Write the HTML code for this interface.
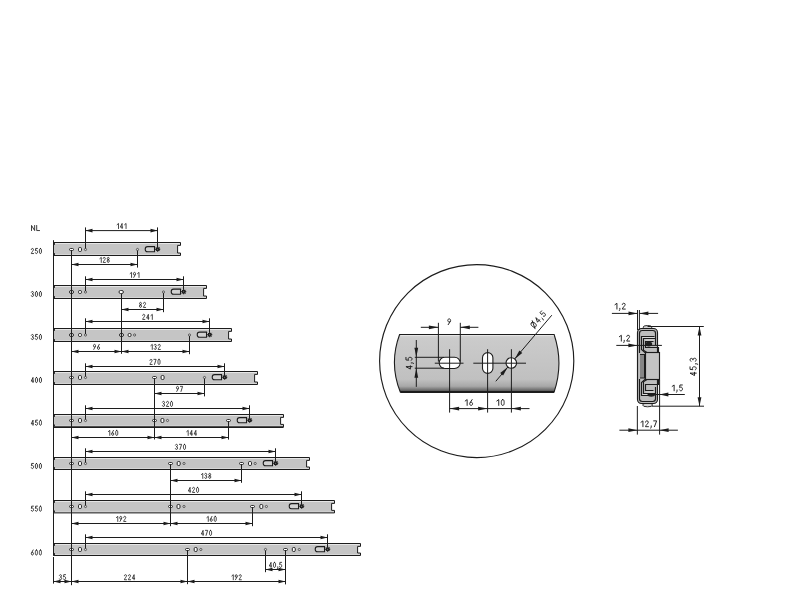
<!DOCTYPE html>
<html><head><meta charset="utf-8"><style>html,body{margin:0;padding:0;background:#fff;width:800px;height:600px;overflow:hidden}svg{will-change:transform}</style></head>
<body>
<svg width="800" height="600" viewBox="0 0 800 600" style="display:block;font-family:'Liberation Sans',sans-serif">
<rect width="800" height="600" fill="#fff"/>
<g fill="#1c1c1c">
<g transform="translate(31.03 225.00) scale(1.08 1.0)" fill="none" stroke="#1c1c1c" stroke-width="0.818" stroke-linecap="round" stroke-linejoin="round"><path transform="translate(0.00 0)" d="M0.45,5.55 V0.45 L3.35,5.55 V0.45"/><path transform="translate(4.80 0)" d="M0.45,0.45 V5.55 H3.1"/></g>
<path d="M53.5,242.5 H180.5 V245.4 H177.6 V253 H180.5 V255.5 H53.5 Z" fill="#c5c5c5"/>
<line x1="54.7" y1="243.5" x2="179.9" y2="243.5" stroke="#e6e6e6" stroke-width="1.0"/>
<line x1="54.7" y1="254.5" x2="179.9" y2="254.5" stroke="#d6d6d6" stroke-width="1.0"/>
<path d="M53.5,242.5 H180.5 V245.4 H177.6 V253 H180.5 V255.5 H53.5" fill="none" stroke="#1c1c1c" stroke-width="1.0"/>
<line x1="54.4" y1="243" x2="54.4" y2="244.9" stroke="#1c1c1c" stroke-width="1.0"/>
<line x1="54.4" y1="253.1" x2="54.4" y2="255" stroke="#1c1c1c" stroke-width="1.0"/>
<g transform="translate(30.90 248.00) scale(1.0 1.0)" fill="none" stroke="#1c1c1c" stroke-width="0.850" stroke-linecap="round" stroke-linejoin="round"><path transform="translate(0.00 0)" d="M0.45,1.55 C0.45,0.85 0.9,0.45 1.5,0.45 C2.15,0.45 2.55,0.85 2.55,1.6 C2.55,2.6 0.45,4.5 0.45,5.55 H2.65"/><path transform="translate(4.00 0)" d="M2.55,0.45 H0.75 L0.5,2.75 C0.8,2.45 1.1,2.35 1.5,2.35 C2.2,2.35 2.6,2.95 2.6,3.95 C2.6,5.0 2.1,5.55 1.5,5.55 C0.95,5.55 0.55,5.25 0.4,4.75"/><path transform="translate(8.00 0)" d="M1.5,0.45 C0.6,0.45 0.45,1.6 0.45,3 C0.45,4.4 0.6,5.55 1.5,5.55 C2.4,5.55 2.55,4.4 2.55,3 C2.55,1.6 2.4,0.45 1.5,0.45 Z"/></g>
<path d="M53.5,285.5 H206.5 V288.4 H203.6 V296 H206.5 V298.5 H53.5 Z" fill="#c5c5c5"/>
<line x1="54.7" y1="286.5" x2="205.9" y2="286.5" stroke="#e6e6e6" stroke-width="1.0"/>
<line x1="54.7" y1="297.5" x2="205.9" y2="297.5" stroke="#d6d6d6" stroke-width="1.0"/>
<path d="M53.5,285.5 H206.5 V288.4 H203.6 V296 H206.5 V298.5 H53.5" fill="none" stroke="#1c1c1c" stroke-width="1.0"/>
<line x1="54.4" y1="286" x2="54.4" y2="287.9" stroke="#1c1c1c" stroke-width="1.0"/>
<line x1="54.4" y1="296.1" x2="54.4" y2="298" stroke="#1c1c1c" stroke-width="1.0"/>
<g transform="translate(30.90 291.00) scale(1.0 1.0)" fill="none" stroke="#1c1c1c" stroke-width="0.850" stroke-linecap="round" stroke-linejoin="round"><path transform="translate(0.00 0)" d="M0.42,1.25 C0.6,0.7 1.0,0.45 1.5,0.45 C2.1,0.45 2.5,0.9 2.5,1.6 C2.5,2.35 2.05,2.8 1.25,2.8 C2.1,2.8 2.6,3.3 2.6,4.2 C2.6,5.05 2.1,5.55 1.5,5.55 C0.95,5.55 0.55,5.25 0.4,4.75"/><path transform="translate(4.00 0)" d="M1.5,0.45 C0.6,0.45 0.45,1.6 0.45,3 C0.45,4.4 0.6,5.55 1.5,5.55 C2.4,5.55 2.55,4.4 2.55,3 C2.55,1.6 2.4,0.45 1.5,0.45 Z"/><path transform="translate(8.00 0)" d="M1.5,0.45 C0.6,0.45 0.45,1.6 0.45,3 C0.45,4.4 0.6,5.55 1.5,5.55 C2.4,5.55 2.55,4.4 2.55,3 C2.55,1.6 2.4,0.45 1.5,0.45 Z"/></g>
<path d="M53.5,328.5 H231.5 V331.4 H228.6 V339 H231.5 V341.5 H53.5 Z" fill="#c5c5c5"/>
<line x1="54.7" y1="329.5" x2="230.9" y2="329.5" stroke="#e6e6e6" stroke-width="1.0"/>
<line x1="54.7" y1="340.5" x2="230.9" y2="340.5" stroke="#d6d6d6" stroke-width="1.0"/>
<path d="M53.5,328.5 H231.5 V331.4 H228.6 V339 H231.5 V341.5 H53.5" fill="none" stroke="#1c1c1c" stroke-width="1.0"/>
<line x1="54.4" y1="329" x2="54.4" y2="330.9" stroke="#1c1c1c" stroke-width="1.0"/>
<line x1="54.4" y1="339.1" x2="54.4" y2="341" stroke="#1c1c1c" stroke-width="1.0"/>
<g transform="translate(30.90 334.00) scale(1.0 1.0)" fill="none" stroke="#1c1c1c" stroke-width="0.850" stroke-linecap="round" stroke-linejoin="round"><path transform="translate(0.00 0)" d="M0.42,1.25 C0.6,0.7 1.0,0.45 1.5,0.45 C2.1,0.45 2.5,0.9 2.5,1.6 C2.5,2.35 2.05,2.8 1.25,2.8 C2.1,2.8 2.6,3.3 2.6,4.2 C2.6,5.05 2.1,5.55 1.5,5.55 C0.95,5.55 0.55,5.25 0.4,4.75"/><path transform="translate(4.00 0)" d="M2.55,0.45 H0.75 L0.5,2.75 C0.8,2.45 1.1,2.35 1.5,2.35 C2.2,2.35 2.6,2.95 2.6,3.95 C2.6,5.0 2.1,5.55 1.5,5.55 C0.95,5.55 0.55,5.25 0.4,4.75"/><path transform="translate(8.00 0)" d="M1.5,0.45 C0.6,0.45 0.45,1.6 0.45,3 C0.45,4.4 0.6,5.55 1.5,5.55 C2.4,5.55 2.55,4.4 2.55,3 C2.55,1.6 2.4,0.45 1.5,0.45 Z"/></g>
<path d="M53.5,371.5 H257.5 V374.4 H254.6 V382 H257.5 V384.5 H53.5 Z" fill="#c5c5c5"/>
<line x1="54.7" y1="372.5" x2="256.9" y2="372.5" stroke="#e6e6e6" stroke-width="1.0"/>
<line x1="54.7" y1="383.5" x2="256.9" y2="383.5" stroke="#d6d6d6" stroke-width="1.0"/>
<path d="M53.5,371.5 H257.5 V374.4 H254.6 V382 H257.5 V384.5 H53.5" fill="none" stroke="#1c1c1c" stroke-width="1.0"/>
<line x1="54.4" y1="372" x2="54.4" y2="373.9" stroke="#1c1c1c" stroke-width="1.0"/>
<line x1="54.4" y1="382.1" x2="54.4" y2="384" stroke="#1c1c1c" stroke-width="1.0"/>
<g transform="translate(30.85 377.00) scale(1.0 1.0)" fill="none" stroke="#1c1c1c" stroke-width="0.850" stroke-linecap="round" stroke-linejoin="round"><path transform="translate(0.00 0)" d="M2.15,5.55 V0.45 L0.4,4.15 H2.75"/><path transform="translate(4.10 0)" d="M1.5,0.45 C0.6,0.45 0.45,1.6 0.45,3 C0.45,4.4 0.6,5.55 1.5,5.55 C2.4,5.55 2.55,4.4 2.55,3 C2.55,1.6 2.4,0.45 1.5,0.45 Z"/><path transform="translate(8.10 0)" d="M1.5,0.45 C0.6,0.45 0.45,1.6 0.45,3 C0.45,4.4 0.6,5.55 1.5,5.55 C2.4,5.55 2.55,4.4 2.55,3 C2.55,1.6 2.4,0.45 1.5,0.45 Z"/></g>
<path d="M53.5,414.5 H283.5 V417.4 H280.6 V424.4 H283.5 V426.9 H53.5 Z" fill="#c5c5c5"/>
<line x1="54.7" y1="415.5" x2="282.9" y2="415.5" stroke="#e6e6e6" stroke-width="1.0"/>
<line x1="54.7" y1="425.9" x2="282.9" y2="425.9" stroke="#d6d6d6" stroke-width="1.0"/>
<path d="M53.5,414.5 H283.5 V417.4 H280.6 V424.4 H283.5 V426.9 H53.5" fill="none" stroke="#1c1c1c" stroke-width="1.0"/>
<line x1="54.4" y1="415" x2="54.4" y2="416.9" stroke="#1c1c1c" stroke-width="1.0"/>
<line x1="54.4" y1="424.5" x2="54.4" y2="426.4" stroke="#1c1c1c" stroke-width="1.0"/>
<g transform="translate(30.85 419.70) scale(1.0 1.0)" fill="none" stroke="#1c1c1c" stroke-width="0.850" stroke-linecap="round" stroke-linejoin="round"><path transform="translate(0.00 0)" d="M2.15,5.55 V0.45 L0.4,4.15 H2.75"/><path transform="translate(4.10 0)" d="M2.55,0.45 H0.75 L0.5,2.75 C0.8,2.45 1.1,2.35 1.5,2.35 C2.2,2.35 2.6,2.95 2.6,3.95 C2.6,5.0 2.1,5.55 1.5,5.55 C0.95,5.55 0.55,5.25 0.4,4.75"/><path transform="translate(8.10 0)" d="M1.5,0.45 C0.6,0.45 0.45,1.6 0.45,3 C0.45,4.4 0.6,5.55 1.5,5.55 C2.4,5.55 2.55,4.4 2.55,3 C2.55,1.6 2.4,0.45 1.5,0.45 Z"/></g>
<path d="M53.5,457.5 H309.5 V460.4 H306.6 V467 H309.5 V469.5 H53.5 Z" fill="#c5c5c5"/>
<line x1="54.7" y1="458.5" x2="308.9" y2="458.5" stroke="#e6e6e6" stroke-width="1.0"/>
<line x1="54.7" y1="468.5" x2="308.9" y2="468.5" stroke="#d6d6d6" stroke-width="1.0"/>
<path d="M53.5,457.5 H309.5 V460.4 H306.6 V467 H309.5 V469.5 H53.5" fill="none" stroke="#1c1c1c" stroke-width="1.0"/>
<line x1="54.4" y1="458" x2="54.4" y2="459.9" stroke="#1c1c1c" stroke-width="1.0"/>
<line x1="54.4" y1="467.1" x2="54.4" y2="469" stroke="#1c1c1c" stroke-width="1.0"/>
<g transform="translate(30.90 463.00) scale(1.0 1.0)" fill="none" stroke="#1c1c1c" stroke-width="0.850" stroke-linecap="round" stroke-linejoin="round"><path transform="translate(0.00 0)" d="M2.55,0.45 H0.75 L0.5,2.75 C0.8,2.45 1.1,2.35 1.5,2.35 C2.2,2.35 2.6,2.95 2.6,3.95 C2.6,5.0 2.1,5.55 1.5,5.55 C0.95,5.55 0.55,5.25 0.4,4.75"/><path transform="translate(4.00 0)" d="M1.5,0.45 C0.6,0.45 0.45,1.6 0.45,3 C0.45,4.4 0.6,5.55 1.5,5.55 C2.4,5.55 2.55,4.4 2.55,3 C2.55,1.6 2.4,0.45 1.5,0.45 Z"/><path transform="translate(8.00 0)" d="M1.5,0.45 C0.6,0.45 0.45,1.6 0.45,3 C0.45,4.4 0.6,5.55 1.5,5.55 C2.4,5.55 2.55,4.4 2.55,3 C2.55,1.6 2.4,0.45 1.5,0.45 Z"/></g>
<path d="M53.5,500.5 H334.5 V503.4 H331.6 V510.4 H334.5 V512.9 H53.5 Z" fill="#c5c5c5"/>
<line x1="54.7" y1="501.5" x2="333.9" y2="501.5" stroke="#e6e6e6" stroke-width="1.0"/>
<line x1="54.7" y1="511.9" x2="333.9" y2="511.9" stroke="#d6d6d6" stroke-width="1.0"/>
<path d="M53.5,500.5 H334.5 V503.4 H331.6 V510.4 H334.5 V512.9 H53.5" fill="none" stroke="#1c1c1c" stroke-width="1.0"/>
<line x1="54.4" y1="501" x2="54.4" y2="502.9" stroke="#1c1c1c" stroke-width="1.0"/>
<line x1="54.4" y1="510.5" x2="54.4" y2="512.4" stroke="#1c1c1c" stroke-width="1.0"/>
<g transform="translate(30.90 505.70) scale(1.0 1.0)" fill="none" stroke="#1c1c1c" stroke-width="0.850" stroke-linecap="round" stroke-linejoin="round"><path transform="translate(0.00 0)" d="M2.55,0.45 H0.75 L0.5,2.75 C0.8,2.45 1.1,2.35 1.5,2.35 C2.2,2.35 2.6,2.95 2.6,3.95 C2.6,5.0 2.1,5.55 1.5,5.55 C0.95,5.55 0.55,5.25 0.4,4.75"/><path transform="translate(4.00 0)" d="M2.55,0.45 H0.75 L0.5,2.75 C0.8,2.45 1.1,2.35 1.5,2.35 C2.2,2.35 2.6,2.95 2.6,3.95 C2.6,5.0 2.1,5.55 1.5,5.55 C0.95,5.55 0.55,5.25 0.4,4.75"/><path transform="translate(8.00 0)" d="M1.5,0.45 C0.6,0.45 0.45,1.6 0.45,3 C0.45,4.4 0.6,5.55 1.5,5.55 C2.4,5.55 2.55,4.4 2.55,3 C2.55,1.6 2.4,0.45 1.5,0.45 Z"/></g>
<path d="M53.5,543.5 H360.5 V546.4 H357.6 V553 H360.5 V555.5 H53.5 Z" fill="#c5c5c5"/>
<line x1="54.7" y1="544.5" x2="359.9" y2="544.5" stroke="#e6e6e6" stroke-width="1.0"/>
<line x1="54.7" y1="554.5" x2="359.9" y2="554.5" stroke="#d6d6d6" stroke-width="1.0"/>
<path d="M53.5,543.5 H360.5 V546.4 H357.6 V553 H360.5 V555.5 H53.5" fill="none" stroke="#1c1c1c" stroke-width="1.0"/>
<line x1="54.4" y1="544" x2="54.4" y2="545.9" stroke="#1c1c1c" stroke-width="1.0"/>
<line x1="54.4" y1="553.1" x2="54.4" y2="555" stroke="#1c1c1c" stroke-width="1.0"/>
<g transform="translate(30.90 549.50) scale(1.0 1.0)" fill="none" stroke="#1c1c1c" stroke-width="0.850" stroke-linecap="round" stroke-linejoin="round"><path transform="translate(0.00 0)" d="M2.25,0.45 L0.75,3.15 C0.55,3.55 0.45,3.9 0.45,4.2 C0.45,5.0 0.9,5.55 1.5,5.55 C2.1,5.55 2.55,5.0 2.55,4.15 C2.55,3.3 2.1,2.8 1.5,2.8 C1.1,2.8 0.85,2.95 0.65,3.3"/><path transform="translate(4.00 0)" d="M1.5,0.45 C0.6,0.45 0.45,1.6 0.45,3 C0.45,4.4 0.6,5.55 1.5,5.55 C2.4,5.55 2.55,4.4 2.55,3 C2.55,1.6 2.4,0.45 1.5,0.45 Z"/><path transform="translate(8.00 0)" d="M1.5,0.45 C0.6,0.45 0.45,1.6 0.45,3 C0.45,4.4 0.6,5.55 1.5,5.55 C2.4,5.55 2.55,4.4 2.55,3 C2.55,1.6 2.4,0.45 1.5,0.45 Z"/></g>
<path d="M147.6,246.6 H154.5 V251.8 H147.6 Q145.2,251.8 145.2,249.2 Q145.2,246.6 147.6,246.6 Z" fill="#d2d2d2" stroke="#1c1c1c" stroke-width="1.05"/>
<line x1="155.1" y1="249.2" x2="160.3" y2="249.2" stroke="#1c1c1c" stroke-width="0.95"/>
<line x1="155.86" y1="247.36" x2="159.54" y2="251.04" stroke="#1c1c1c" stroke-width="0.95"/>
<line x1="157.7" y1="246.6" x2="157.7" y2="251.8" stroke="#1c1c1c" stroke-width="0.95"/>
<line x1="159.54" y1="247.36" x2="155.86" y2="251.04" stroke="#1c1c1c" stroke-width="0.95"/>
<circle cx="157.7" cy="249.2" r="2.0" fill="#1c1c1c"/>
<circle cx="157.7" cy="249.2" r="0.5" fill="#999"/>
<line x1="85.5" y1="230.6" x2="157.5" y2="230.6" stroke="#1c1c1c" stroke-width="1.0"/>
<polygon points="85.5,230.6 92.5,228.75 92.5,232.45" fill="#1c1c1c"/>
<polygon points="157.5,230.6 150.5,228.75 150.5,232.45" fill="#1c1c1c"/>
<g transform="translate(116.50 223.00) scale(1.0 1.0)" fill="none" stroke="#1c1c1c" stroke-width="0.800" stroke-linecap="round" stroke-linejoin="round"><path transform="translate(0.00 0)" d="M0.55,1.7 L2.0,0.45 V5.55"/><path transform="translate(3.45 0)" d="M2.15,5.55 V0.45 L0.4,4.15 H2.75"/><path transform="translate(7.55 0)" d="M0.55,1.7 L2.0,0.45 V5.55"/></g>
<rect x="69.5" y="248.5" width="4" height="2" rx="1" fill="#fff" stroke="#1c1c1c" stroke-width="0.9"/>
<rect x="78.5" y="247.5" width="3" height="4" rx="1.2" fill="#fafafa" stroke="#1c1c1c" stroke-width="0.95"/>
<circle cx="85.5" cy="249.5" r="1.1" fill="#d8d8d8" stroke="#3a3a3a" stroke-width="0.75"/>
<path d="M173.6,289.1 H180.5 V294.3 H173.6 Q171.2,294.3 171.2,291.7 Q171.2,289.1 173.6,289.1 Z" fill="#d2d2d2" stroke="#1c1c1c" stroke-width="1.05"/>
<line x1="181.1" y1="291.7" x2="186.3" y2="291.7" stroke="#1c1c1c" stroke-width="0.95"/>
<line x1="181.86" y1="289.86" x2="185.54" y2="293.54" stroke="#1c1c1c" stroke-width="0.95"/>
<line x1="183.7" y1="289.1" x2="183.7" y2="294.3" stroke="#1c1c1c" stroke-width="0.95"/>
<line x1="185.54" y1="289.86" x2="181.86" y2="293.54" stroke="#1c1c1c" stroke-width="0.95"/>
<circle cx="183.7" cy="291.7" r="2.0" fill="#1c1c1c"/>
<circle cx="183.7" cy="291.7" r="0.5" fill="#999"/>
<line x1="85.5" y1="279.5" x2="183.5" y2="279.5" stroke="#1c1c1c" stroke-width="1.0"/>
<polygon points="85.5,279.5 92.5,277.65 92.5,281.35" fill="#1c1c1c"/>
<polygon points="183.5,279.5 176.5,277.65 176.5,281.35" fill="#1c1c1c"/>
<g transform="translate(129.55 271.90) scale(1.0 1.0)" fill="none" stroke="#1c1c1c" stroke-width="0.800" stroke-linecap="round" stroke-linejoin="round"><path transform="translate(0.00 0)" d="M0.55,1.7 L2.0,0.45 V5.55"/><path transform="translate(3.45 0)" d="M0.75,5.55 L2.25,2.85 C2.45,2.45 2.55,2.1 2.55,1.8 C2.55,1.0 2.1,0.45 1.5,0.45 C0.9,0.45 0.45,1.0 0.45,1.85 C0.45,2.7 0.9,3.2 1.5,3.2 C1.9,3.2 2.15,3.05 2.35,2.7"/><path transform="translate(7.45 0)" d="M0.55,1.7 L2.0,0.45 V5.55"/></g>
<rect x="69.5" y="290.5" width="4" height="3" rx="1.5" fill="#fff" stroke="#1c1c1c" stroke-width="0.95"/>
<rect x="78.5" y="290.5" width="3" height="3" rx="1.2" fill="#fafafa" stroke="#1c1c1c" stroke-width="0.95"/>
<circle cx="85.5" cy="292" r="1.1" fill="#d8d8d8" stroke="#3a3a3a" stroke-width="0.75"/>
<path d="M199.6,332.1 H206.5 V337.3 H199.6 Q197.2,337.3 197.2,334.7 Q197.2,332.1 199.6,332.1 Z" fill="#d2d2d2" stroke="#1c1c1c" stroke-width="1.05"/>
<line x1="207.1" y1="334.7" x2="212.3" y2="334.7" stroke="#1c1c1c" stroke-width="0.95"/>
<line x1="207.86" y1="332.86" x2="211.54" y2="336.54" stroke="#1c1c1c" stroke-width="0.95"/>
<line x1="209.7" y1="332.1" x2="209.7" y2="337.3" stroke="#1c1c1c" stroke-width="0.95"/>
<line x1="211.54" y1="332.86" x2="207.86" y2="336.54" stroke="#1c1c1c" stroke-width="0.95"/>
<circle cx="209.7" cy="334.7" r="2.0" fill="#1c1c1c"/>
<circle cx="209.7" cy="334.7" r="0.5" fill="#999"/>
<line x1="85.5" y1="321.5" x2="209.5" y2="321.5" stroke="#1c1c1c" stroke-width="1.0"/>
<polygon points="85.5,321.5 92.5,319.65 92.5,323.35" fill="#1c1c1c"/>
<polygon points="209.5,321.5 202.5,319.65 202.5,323.35" fill="#1c1c1c"/>
<g transform="translate(142.22 313.90) scale(1.0 1.0)" fill="none" stroke="#1c1c1c" stroke-width="0.800" stroke-linecap="round" stroke-linejoin="round"><path transform="translate(0.00 0)" d="M0.45,1.55 C0.45,0.85 0.9,0.45 1.5,0.45 C2.15,0.45 2.55,0.85 2.55,1.6 C2.55,2.6 0.45,4.5 0.45,5.55 H2.65"/><path transform="translate(4.00 0)" d="M2.15,5.55 V0.45 L0.4,4.15 H2.75"/><path transform="translate(8.10 0)" d="M0.55,1.7 L2.0,0.45 V5.55"/></g>
<rect x="69.5" y="333.5" width="4" height="3" rx="1.5" fill="#fff" stroke="#1c1c1c" stroke-width="0.95"/>
<rect x="78.5" y="333.5" width="3" height="3" rx="1.2" fill="#fafafa" stroke="#1c1c1c" stroke-width="0.95"/>
<circle cx="85.5" cy="335" r="1.1" fill="#d8d8d8" stroke="#3a3a3a" stroke-width="0.75"/>
<path d="M214.6,374.6 H221.5 V379.8 H214.6 Q212.2,379.8 212.2,377.2 Q212.2,374.6 214.6,374.6 Z" fill="#d2d2d2" stroke="#1c1c1c" stroke-width="1.05"/>
<line x1="222.1" y1="377.2" x2="227.3" y2="377.2" stroke="#1c1c1c" stroke-width="0.95"/>
<line x1="222.86" y1="375.36" x2="226.54" y2="379.04" stroke="#1c1c1c" stroke-width="0.95"/>
<line x1="224.7" y1="374.6" x2="224.7" y2="379.8" stroke="#1c1c1c" stroke-width="0.95"/>
<line x1="226.54" y1="375.36" x2="222.86" y2="379.04" stroke="#1c1c1c" stroke-width="0.95"/>
<circle cx="224.7" cy="377.2" r="2.0" fill="#1c1c1c"/>
<circle cx="224.7" cy="377.2" r="0.5" fill="#999"/>
<line x1="85.5" y1="366.5" x2="224.5" y2="366.5" stroke="#1c1c1c" stroke-width="1.0"/>
<polygon points="85.5,366.5 92.5,364.65 92.5,368.35" fill="#1c1c1c"/>
<polygon points="224.5,366.5 217.5,364.65 217.5,368.35" fill="#1c1c1c"/>
<g transform="translate(149.50 358.90) scale(1.0 1.0)" fill="none" stroke="#1c1c1c" stroke-width="0.800" stroke-linecap="round" stroke-linejoin="round"><path transform="translate(0.00 0)" d="M0.45,1.55 C0.45,0.85 0.9,0.45 1.5,0.45 C2.15,0.45 2.55,0.85 2.55,1.6 C2.55,2.6 0.45,4.5 0.45,5.55 H2.65"/><path transform="translate(4.00 0)" d="M0.4,0.45 H2.6 L1.0,5.55"/><path transform="translate(8.00 0)" d="M1.5,0.45 C0.6,0.45 0.45,1.6 0.45,3 C0.45,4.4 0.6,5.55 1.5,5.55 C2.4,5.55 2.55,4.4 2.55,3 C2.55,1.6 2.4,0.45 1.5,0.45 Z"/></g>
<rect x="69.5" y="376.5" width="4" height="2" rx="1" fill="#fff" stroke="#1c1c1c" stroke-width="0.9"/>
<rect x="78.5" y="375.5" width="3" height="4" rx="1.2" fill="#fafafa" stroke="#1c1c1c" stroke-width="0.95"/>
<circle cx="85.5" cy="377.5" r="1.1" fill="#d8d8d8" stroke="#3a3a3a" stroke-width="0.75"/>
<path d="M239.6,417.6 H246.5 V422.8 H239.6 Q237.2,422.8 237.2,420.2 Q237.2,417.6 239.6,417.6 Z" fill="#d2d2d2" stroke="#1c1c1c" stroke-width="1.05"/>
<line x1="247.1" y1="420.2" x2="252.3" y2="420.2" stroke="#1c1c1c" stroke-width="0.95"/>
<line x1="247.86" y1="418.36" x2="251.54" y2="422.04" stroke="#1c1c1c" stroke-width="0.95"/>
<line x1="249.7" y1="417.6" x2="249.7" y2="422.8" stroke="#1c1c1c" stroke-width="0.95"/>
<line x1="251.54" y1="418.36" x2="247.86" y2="422.04" stroke="#1c1c1c" stroke-width="0.95"/>
<circle cx="249.7" cy="420.2" r="2.0" fill="#1c1c1c"/>
<circle cx="249.7" cy="420.2" r="0.5" fill="#999"/>
<line x1="85.5" y1="408.5" x2="249.5" y2="408.5" stroke="#1c1c1c" stroke-width="1.0"/>
<polygon points="85.5,408.5 92.5,406.65 92.5,410.35" fill="#1c1c1c"/>
<polygon points="249.5,408.5 242.5,406.65 242.5,410.35" fill="#1c1c1c"/>
<g transform="translate(162.00 400.90) scale(1.0 1.0)" fill="none" stroke="#1c1c1c" stroke-width="0.800" stroke-linecap="round" stroke-linejoin="round"><path transform="translate(0.00 0)" d="M0.42,1.25 C0.6,0.7 1.0,0.45 1.5,0.45 C2.1,0.45 2.5,0.9 2.5,1.6 C2.5,2.35 2.05,2.8 1.25,2.8 C2.1,2.8 2.6,3.3 2.6,4.2 C2.6,5.05 2.1,5.55 1.5,5.55 C0.95,5.55 0.55,5.25 0.4,4.75"/><path transform="translate(4.00 0)" d="M0.45,1.55 C0.45,0.85 0.9,0.45 1.5,0.45 C2.15,0.45 2.55,0.85 2.55,1.6 C2.55,2.6 0.45,4.5 0.45,5.55 H2.65"/><path transform="translate(8.00 0)" d="M1.5,0.45 C0.6,0.45 0.45,1.6 0.45,3 C0.45,4.4 0.6,5.55 1.5,5.55 C2.4,5.55 2.55,4.4 2.55,3 C2.55,1.6 2.4,0.45 1.5,0.45 Z"/></g>
<rect x="69.5" y="419.5" width="4" height="2" rx="1" fill="#fff" stroke="#1c1c1c" stroke-width="0.9"/>
<rect x="78.5" y="418.5" width="3" height="4" rx="1.2" fill="#fafafa" stroke="#1c1c1c" stroke-width="0.95"/>
<circle cx="85.5" cy="420.5" r="1.1" fill="#d8d8d8" stroke="#3a3a3a" stroke-width="0.75"/>
<path d="M265.6,460.6 H272.5 V465.8 H265.6 Q263.2,465.8 263.2,463.2 Q263.2,460.6 265.6,460.6 Z" fill="#d2d2d2" stroke="#1c1c1c" stroke-width="1.05"/>
<line x1="273.1" y1="463.2" x2="278.3" y2="463.2" stroke="#1c1c1c" stroke-width="0.95"/>
<line x1="273.86" y1="461.36" x2="277.54" y2="465.04" stroke="#1c1c1c" stroke-width="0.95"/>
<line x1="275.7" y1="460.6" x2="275.7" y2="465.8" stroke="#1c1c1c" stroke-width="0.95"/>
<line x1="277.54" y1="461.36" x2="273.86" y2="465.04" stroke="#1c1c1c" stroke-width="0.95"/>
<circle cx="275.7" cy="463.2" r="2.0" fill="#1c1c1c"/>
<circle cx="275.7" cy="463.2" r="0.5" fill="#999"/>
<line x1="85.5" y1="451.5" x2="275.5" y2="451.5" stroke="#1c1c1c" stroke-width="1.0"/>
<polygon points="85.5,451.5 92.5,449.65 92.5,453.35" fill="#1c1c1c"/>
<polygon points="275.5,451.5 268.5,449.65 268.5,453.35" fill="#1c1c1c"/>
<g transform="translate(175.00 443.90) scale(1.0 1.0)" fill="none" stroke="#1c1c1c" stroke-width="0.800" stroke-linecap="round" stroke-linejoin="round"><path transform="translate(0.00 0)" d="M0.42,1.25 C0.6,0.7 1.0,0.45 1.5,0.45 C2.1,0.45 2.5,0.9 2.5,1.6 C2.5,2.35 2.05,2.8 1.25,2.8 C2.1,2.8 2.6,3.3 2.6,4.2 C2.6,5.05 2.1,5.55 1.5,5.55 C0.95,5.55 0.55,5.25 0.4,4.75"/><path transform="translate(4.00 0)" d="M0.4,0.45 H2.6 L1.0,5.55"/><path transform="translate(8.00 0)" d="M1.5,0.45 C0.6,0.45 0.45,1.6 0.45,3 C0.45,4.4 0.6,5.55 1.5,5.55 C2.4,5.55 2.55,4.4 2.55,3 C2.55,1.6 2.4,0.45 1.5,0.45 Z"/></g>
<rect x="69.5" y="462.5" width="4" height="2" rx="1" fill="#fff" stroke="#1c1c1c" stroke-width="0.9"/>
<rect x="78.5" y="461.5" width="3" height="4" rx="1.2" fill="#fafafa" stroke="#1c1c1c" stroke-width="0.95"/>
<circle cx="85.5" cy="463.5" r="1.1" fill="#d8d8d8" stroke="#3a3a3a" stroke-width="0.75"/>
<path d="M291.6,503.6 H298.5 V508.8 H291.6 Q289.2,508.8 289.2,506.2 Q289.2,503.6 291.6,503.6 Z" fill="#d2d2d2" stroke="#1c1c1c" stroke-width="1.05"/>
<line x1="299.1" y1="506.2" x2="304.3" y2="506.2" stroke="#1c1c1c" stroke-width="0.95"/>
<line x1="299.86" y1="504.36" x2="303.54" y2="508.04" stroke="#1c1c1c" stroke-width="0.95"/>
<line x1="301.7" y1="503.6" x2="301.7" y2="508.8" stroke="#1c1c1c" stroke-width="0.95"/>
<line x1="303.54" y1="504.36" x2="299.86" y2="508.04" stroke="#1c1c1c" stroke-width="0.95"/>
<circle cx="301.7" cy="506.2" r="2.0" fill="#1c1c1c"/>
<circle cx="301.7" cy="506.2" r="0.5" fill="#999"/>
<line x1="85.5" y1="494.5" x2="301.5" y2="494.5" stroke="#1c1c1c" stroke-width="1.0"/>
<polygon points="85.5,494.5 92.5,492.65 92.5,496.35" fill="#1c1c1c"/>
<polygon points="301.5,494.5 294.5,492.65 294.5,496.35" fill="#1c1c1c"/>
<g transform="translate(187.95 486.90) scale(1.0 1.0)" fill="none" stroke="#1c1c1c" stroke-width="0.800" stroke-linecap="round" stroke-linejoin="round"><path transform="translate(0.00 0)" d="M2.15,5.55 V0.45 L0.4,4.15 H2.75"/><path transform="translate(4.10 0)" d="M0.45,1.55 C0.45,0.85 0.9,0.45 1.5,0.45 C2.15,0.45 2.55,0.85 2.55,1.6 C2.55,2.6 0.45,4.5 0.45,5.55 H2.65"/><path transform="translate(8.10 0)" d="M1.5,0.45 C0.6,0.45 0.45,1.6 0.45,3 C0.45,4.4 0.6,5.55 1.5,5.55 C2.4,5.55 2.55,4.4 2.55,3 C2.55,1.6 2.4,0.45 1.5,0.45 Z"/></g>
<rect x="69.5" y="505.5" width="4" height="2" rx="1" fill="#fff" stroke="#1c1c1c" stroke-width="0.9"/>
<rect x="78.5" y="504.5" width="3" height="4" rx="1.2" fill="#fafafa" stroke="#1c1c1c" stroke-width="0.95"/>
<circle cx="85.5" cy="506.5" r="1.1" fill="#d8d8d8" stroke="#3a3a3a" stroke-width="0.75"/>
<path d="M317.6,546.6 H324.5 V551.8 H317.6 Q315.2,551.8 315.2,549.2 Q315.2,546.6 317.6,546.6 Z" fill="#d2d2d2" stroke="#1c1c1c" stroke-width="1.05"/>
<line x1="325.1" y1="549.2" x2="330.3" y2="549.2" stroke="#1c1c1c" stroke-width="0.95"/>
<line x1="325.86" y1="547.36" x2="329.54" y2="551.04" stroke="#1c1c1c" stroke-width="0.95"/>
<line x1="327.7" y1="546.6" x2="327.7" y2="551.8" stroke="#1c1c1c" stroke-width="0.95"/>
<line x1="329.54" y1="547.36" x2="325.86" y2="551.04" stroke="#1c1c1c" stroke-width="0.95"/>
<circle cx="327.7" cy="549.2" r="2.0" fill="#1c1c1c"/>
<circle cx="327.7" cy="549.2" r="0.5" fill="#999"/>
<line x1="85.5" y1="537.5" x2="327.5" y2="537.5" stroke="#1c1c1c" stroke-width="1.0"/>
<polygon points="85.5,537.5 92.5,535.65 92.5,539.35" fill="#1c1c1c"/>
<polygon points="327.5,537.5 320.5,535.65 320.5,539.35" fill="#1c1c1c"/>
<g transform="translate(200.95 529.90) scale(1.0 1.0)" fill="none" stroke="#1c1c1c" stroke-width="0.800" stroke-linecap="round" stroke-linejoin="round"><path transform="translate(0.00 0)" d="M2.15,5.55 V0.45 L0.4,4.15 H2.75"/><path transform="translate(4.10 0)" d="M0.4,0.45 H2.6 L1.0,5.55"/><path transform="translate(8.10 0)" d="M1.5,0.45 C0.6,0.45 0.45,1.6 0.45,3 C0.45,4.4 0.6,5.55 1.5,5.55 C2.4,5.55 2.55,4.4 2.55,3 C2.55,1.6 2.4,0.45 1.5,0.45 Z"/></g>
<rect x="69.5" y="548.5" width="4" height="2" rx="1" fill="#fff" stroke="#1c1c1c" stroke-width="0.9"/>
<rect x="78.5" y="547.5" width="3" height="4" rx="1.2" fill="#fafafa" stroke="#1c1c1c" stroke-width="0.95"/>
<circle cx="85.5" cy="549.5" r="1.1" fill="#d8d8d8" stroke="#3a3a3a" stroke-width="0.75"/>
<circle cx="137.5" cy="249.5" r="1.1" fill="#d8d8d8" stroke="#3a3a3a" stroke-width="0.75"/>
<line x1="71.5" y1="264.5" x2="137.5" y2="264.5" stroke="#1c1c1c" stroke-width="1.0"/>
<polygon points="71.5,264.5 78.5,262.65 78.5,266.35" fill="#1c1c1c"/>
<polygon points="137.5,264.5 130.5,262.65 130.5,266.35" fill="#1c1c1c"/>
<g transform="translate(99.28 256.90) scale(1.0 1.0)" fill="none" stroke="#1c1c1c" stroke-width="0.800" stroke-linecap="round" stroke-linejoin="round"><path transform="translate(0.00 0)" d="M0.55,1.7 L2.0,0.45 V5.55"/><path transform="translate(3.45 0)" d="M0.45,1.55 C0.45,0.85 0.9,0.45 1.5,0.45 C2.15,0.45 2.55,0.85 2.55,1.6 C2.55,2.6 0.45,4.5 0.45,5.55 H2.65"/><path transform="translate(7.45 0)" d="M1.5,2.8 C0.9,2.8 0.55,2.3 0.55,1.6 C0.55,0.9 0.95,0.45 1.5,0.45 C2.05,0.45 2.45,0.9 2.45,1.6 C2.45,2.3 2.1,2.8 1.5,2.8 C0.85,2.8 0.45,3.35 0.45,4.2 C0.45,5.0 0.9,5.55 1.5,5.55 C2.1,5.55 2.55,5.0 2.55,4.2 C2.55,3.35 2.15,2.8 1.5,2.8 Z"/></g>
<rect x="119" y="290.5" width="4.4" height="3" rx="1.5" fill="#fff" stroke="#1c1c1c" stroke-width="0.9"/>
<circle cx="163.5" cy="292" r="1.1" fill="#d8d8d8" stroke="#3a3a3a" stroke-width="0.75"/>
<line x1="121.5" y1="309.5" x2="163.5" y2="309.5" stroke="#1c1c1c" stroke-width="1.0"/>
<polygon points="121.5,309.5 128.5,307.65 128.5,311.35" fill="#1c1c1c"/>
<polygon points="163.5,309.5 156.5,307.65 156.5,311.35" fill="#1c1c1c"/>
<g transform="translate(139.00 301.90) scale(1.0 1.0)" fill="none" stroke="#1c1c1c" stroke-width="0.800" stroke-linecap="round" stroke-linejoin="round"><path transform="translate(0.00 0)" d="M1.5,2.8 C0.9,2.8 0.55,2.3 0.55,1.6 C0.55,0.9 0.95,0.45 1.5,0.45 C2.05,0.45 2.45,0.9 2.45,1.6 C2.45,2.3 2.1,2.8 1.5,2.8 C0.85,2.8 0.45,3.35 0.45,4.2 C0.45,5.0 0.9,5.55 1.5,5.55 C2.1,5.55 2.55,5.0 2.55,4.2 C2.55,3.35 2.15,2.8 1.5,2.8 Z"/><path transform="translate(4.00 0)" d="M0.45,1.55 C0.45,0.85 0.9,0.45 1.5,0.45 C2.15,0.45 2.55,0.85 2.55,1.6 C2.55,2.6 0.45,4.5 0.45,5.55 H2.65"/></g>
<rect x="119.5" y="333.5" width="4" height="3" rx="1.5" fill="#fff" stroke="#1c1c1c" stroke-width="0.95"/>
<rect x="128.1" y="333.5" width="3" height="3" rx="1.2" fill="#fafafa" stroke="#1c1c1c" stroke-width="0.95"/>
<circle cx="134.6" cy="335" r="1.1" fill="#d8d8d8" stroke="#3a3a3a" stroke-width="0.75"/>
<circle cx="189.5" cy="335" r="1.1" fill="#d8d8d8" stroke="#3a3a3a" stroke-width="0.75"/>
<line x1="71.5" y1="351.5" x2="121.5" y2="351.5" stroke="#1c1c1c" stroke-width="1.0"/>
<polygon points="71.5,351.5 78.5,349.65 78.5,353.35" fill="#1c1c1c"/>
<polygon points="121.5,351.5 114.5,349.65 114.5,353.35" fill="#1c1c1c"/>
<g transform="translate(93.00 343.90) scale(1.0 1.0)" fill="none" stroke="#1c1c1c" stroke-width="0.800" stroke-linecap="round" stroke-linejoin="round"><path transform="translate(0.00 0)" d="M0.75,5.55 L2.25,2.85 C2.45,2.45 2.55,2.1 2.55,1.8 C2.55,1.0 2.1,0.45 1.5,0.45 C0.9,0.45 0.45,1.0 0.45,1.85 C0.45,2.7 0.9,3.2 1.5,3.2 C1.9,3.2 2.15,3.05 2.35,2.7"/><path transform="translate(4.00 0)" d="M2.25,0.45 L0.75,3.15 C0.55,3.55 0.45,3.9 0.45,4.2 C0.45,5.0 0.9,5.55 1.5,5.55 C2.1,5.55 2.55,5.0 2.55,4.15 C2.55,3.3 2.1,2.8 1.5,2.8 C1.1,2.8 0.85,2.95 0.65,3.3"/></g>
<line x1="121.5" y1="351.5" x2="189.5" y2="351.5" stroke="#1c1c1c" stroke-width="1.0"/>
<polygon points="121.5,351.5 128.5,349.65 128.5,353.35" fill="#1c1c1c"/>
<polygon points="189.5,351.5 182.5,349.65 182.5,353.35" fill="#1c1c1c"/>
<g transform="translate(150.28 343.90) scale(1.0 1.0)" fill="none" stroke="#1c1c1c" stroke-width="0.800" stroke-linecap="round" stroke-linejoin="round"><path transform="translate(0.00 0)" d="M0.55,1.7 L2.0,0.45 V5.55"/><path transform="translate(3.45 0)" d="M0.42,1.25 C0.6,0.7 1.0,0.45 1.5,0.45 C2.1,0.45 2.5,0.9 2.5,1.6 C2.5,2.35 2.05,2.8 1.25,2.8 C2.1,2.8 2.6,3.3 2.6,4.2 C2.6,5.05 2.1,5.55 1.5,5.55 C0.95,5.55 0.55,5.25 0.4,4.75"/><path transform="translate(7.45 0)" d="M0.45,1.55 C0.45,0.85 0.9,0.45 1.5,0.45 C2.15,0.45 2.55,0.85 2.55,1.6 C2.55,2.6 0.45,4.5 0.45,5.55 H2.65"/></g>
<rect x="152.5" y="376.5" width="4" height="2" rx="1" fill="#fff" stroke="#1c1c1c" stroke-width="0.9"/>
<rect x="161.1" y="375.5" width="3" height="4" rx="1.2" fill="#fafafa" stroke="#1c1c1c" stroke-width="0.95"/>
<circle cx="204.5" cy="377.5" r="1.1" fill="#d8d8d8" stroke="#3a3a3a" stroke-width="0.75"/>
<line x1="154.5" y1="393.5" x2="204.5" y2="393.5" stroke="#1c1c1c" stroke-width="1.0"/>
<polygon points="154.5,393.5 161.5,391.65 161.5,395.35" fill="#1c1c1c"/>
<polygon points="204.5,393.5 197.5,391.65 197.5,395.35" fill="#1c1c1c"/>
<g transform="translate(176.00 385.90) scale(1.0 1.0)" fill="none" stroke="#1c1c1c" stroke-width="0.800" stroke-linecap="round" stroke-linejoin="round"><path transform="translate(0.00 0)" d="M0.75,5.55 L2.25,2.85 C2.45,2.45 2.55,2.1 2.55,1.8 C2.55,1.0 2.1,0.45 1.5,0.45 C0.9,0.45 0.45,1.0 0.45,1.85 C0.45,2.7 0.9,3.2 1.5,3.2 C1.9,3.2 2.15,3.05 2.35,2.7"/><path transform="translate(4.00 0)" d="M0.4,0.45 H2.6 L1.0,5.55"/></g>
<rect x="152.5" y="419.5" width="4" height="2" rx="1" fill="#fff" stroke="#1c1c1c" stroke-width="0.9"/>
<rect x="160.9" y="418.5" width="3" height="4" rx="1.2" fill="#fafafa" stroke="#1c1c1c" stroke-width="0.95"/>
<circle cx="167.5" cy="420.5" r="1.1" fill="#d8d8d8" stroke="#3a3a3a" stroke-width="0.75"/>
<rect x="226.5" y="419.5" width="4" height="2" rx="1" fill="#fff" stroke="#1c1c1c" stroke-width="0.9"/>
<line x1="53.5" y1="427.4" x2="283.5" y2="427.4" stroke="#1c1c1c" stroke-width="1.2"/>
<line x1="71.5" y1="437.5" x2="154.5" y2="437.5" stroke="#1c1c1c" stroke-width="1.0"/>
<polygon points="71.5,437.5 78.5,435.65 78.5,439.35" fill="#1c1c1c"/>
<polygon points="154.5,437.5 147.5,435.65 147.5,439.35" fill="#1c1c1c"/>
<g transform="translate(107.78 429.90) scale(1.0 1.0)" fill="none" stroke="#1c1c1c" stroke-width="0.800" stroke-linecap="round" stroke-linejoin="round"><path transform="translate(0.00 0)" d="M0.55,1.7 L2.0,0.45 V5.55"/><path transform="translate(3.45 0)" d="M2.25,0.45 L0.75,3.15 C0.55,3.55 0.45,3.9 0.45,4.2 C0.45,5.0 0.9,5.55 1.5,5.55 C2.1,5.55 2.55,5.0 2.55,4.15 C2.55,3.3 2.1,2.8 1.5,2.8 C1.1,2.8 0.85,2.95 0.65,3.3"/><path transform="translate(7.45 0)" d="M1.5,0.45 C0.6,0.45 0.45,1.6 0.45,3 C0.45,4.4 0.6,5.55 1.5,5.55 C2.4,5.55 2.55,4.4 2.55,3 C2.55,1.6 2.4,0.45 1.5,0.45 Z"/></g>
<line x1="154.5" y1="437.5" x2="228.5" y2="437.5" stroke="#1c1c1c" stroke-width="1.0"/>
<polygon points="154.5,437.5 161.5,435.65 161.5,439.35" fill="#1c1c1c"/>
<polygon points="228.5,437.5 221.5,435.65 221.5,439.35" fill="#1c1c1c"/>
<g transform="translate(186.18 429.90) scale(1.0 1.0)" fill="none" stroke="#1c1c1c" stroke-width="0.800" stroke-linecap="round" stroke-linejoin="round"><path transform="translate(0.00 0)" d="M0.55,1.7 L2.0,0.45 V5.55"/><path transform="translate(3.45 0)" d="M2.15,5.55 V0.45 L0.4,4.15 H2.75"/><path transform="translate(7.55 0)" d="M2.15,5.55 V0.45 L0.4,4.15 H2.75"/></g>
<rect x="168.5" y="462.5" width="4" height="2" rx="1" fill="#fff" stroke="#1c1c1c" stroke-width="0.9"/>
<rect x="177.2" y="461.5" width="3" height="4" rx="1.2" fill="#fafafa" stroke="#1c1c1c" stroke-width="0.95"/>
<circle cx="184" cy="463.5" r="1.1" fill="#d8d8d8" stroke="#3a3a3a" stroke-width="0.75"/>
<rect x="239.5" y="462.5" width="4" height="2" rx="1" fill="#fff" stroke="#1c1c1c" stroke-width="0.9"/>
<rect x="248.5" y="461.5" width="3" height="4" rx="1.2" fill="#fafafa" stroke="#1c1c1c" stroke-width="0.95"/>
<circle cx="255.2" cy="463.5" r="1.1" fill="#d8d8d8" stroke="#3a3a3a" stroke-width="0.75"/>
<line x1="170.5" y1="480.5" x2="241.5" y2="480.5" stroke="#1c1c1c" stroke-width="1.0"/>
<polygon points="170.5,480.5 177.5,478.65 177.5,482.35" fill="#1c1c1c"/>
<polygon points="241.5,480.5 234.5,478.65 234.5,482.35" fill="#1c1c1c"/>
<g transform="translate(200.78 472.90) scale(1.0 1.0)" fill="none" stroke="#1c1c1c" stroke-width="0.800" stroke-linecap="round" stroke-linejoin="round"><path transform="translate(0.00 0)" d="M0.55,1.7 L2.0,0.45 V5.55"/><path transform="translate(3.45 0)" d="M0.42,1.25 C0.6,0.7 1.0,0.45 1.5,0.45 C2.1,0.45 2.5,0.9 2.5,1.6 C2.5,2.35 2.05,2.8 1.25,2.8 C2.1,2.8 2.6,3.3 2.6,4.2 C2.6,5.05 2.1,5.55 1.5,5.55 C0.95,5.55 0.55,5.25 0.4,4.75"/><path transform="translate(7.45 0)" d="M1.5,2.8 C0.9,2.8 0.55,2.3 0.55,1.6 C0.55,0.9 0.95,0.45 1.5,0.45 C2.05,0.45 2.45,0.9 2.45,1.6 C2.45,2.3 2.1,2.8 1.5,2.8 C0.85,2.8 0.45,3.35 0.45,4.2 C0.45,5.0 0.9,5.55 1.5,5.55 C2.1,5.55 2.55,5.0 2.55,4.2 C2.55,3.35 2.15,2.8 1.5,2.8 Z"/></g>
<rect x="168.5" y="505.5" width="4" height="2" rx="1" fill="#fff" stroke="#1c1c1c" stroke-width="0.9"/>
<rect x="177" y="504.5" width="3" height="4" rx="1.2" fill="#fafafa" stroke="#1c1c1c" stroke-width="0.95"/>
<circle cx="184" cy="506.5" r="1.1" fill="#d8d8d8" stroke="#3a3a3a" stroke-width="0.75"/>
<rect x="250.5" y="505.5" width="4" height="2" rx="1" fill="#fff" stroke="#1c1c1c" stroke-width="0.9"/>
<rect x="259.8" y="504.5" width="3" height="4" rx="1.2" fill="#fafafa" stroke="#1c1c1c" stroke-width="0.95"/>
<circle cx="266.4" cy="506.5" r="1.1" fill="#d8d8d8" stroke="#3a3a3a" stroke-width="0.75"/>
<line x1="71.5" y1="523.5" x2="170.5" y2="523.5" stroke="#1c1c1c" stroke-width="1.0"/>
<polygon points="71.5,523.5 78.5,521.65 78.5,525.35" fill="#1c1c1c"/>
<polygon points="170.5,523.5 163.5,521.65 163.5,525.35" fill="#1c1c1c"/>
<g transform="translate(115.78 515.90) scale(1.0 1.0)" fill="none" stroke="#1c1c1c" stroke-width="0.800" stroke-linecap="round" stroke-linejoin="round"><path transform="translate(0.00 0)" d="M0.55,1.7 L2.0,0.45 V5.55"/><path transform="translate(3.45 0)" d="M0.75,5.55 L2.25,2.85 C2.45,2.45 2.55,2.1 2.55,1.8 C2.55,1.0 2.1,0.45 1.5,0.45 C0.9,0.45 0.45,1.0 0.45,1.85 C0.45,2.7 0.9,3.2 1.5,3.2 C1.9,3.2 2.15,3.05 2.35,2.7"/><path transform="translate(7.45 0)" d="M0.45,1.55 C0.45,0.85 0.9,0.45 1.5,0.45 C2.15,0.45 2.55,0.85 2.55,1.6 C2.55,2.6 0.45,4.5 0.45,5.55 H2.65"/></g>
<line x1="170.5" y1="523.5" x2="252.5" y2="523.5" stroke="#1c1c1c" stroke-width="1.0"/>
<polygon points="170.5,523.5 177.5,521.65 177.5,525.35" fill="#1c1c1c"/>
<polygon points="252.5,523.5 245.5,521.65 245.5,525.35" fill="#1c1c1c"/>
<g transform="translate(206.28 515.90) scale(1.0 1.0)" fill="none" stroke="#1c1c1c" stroke-width="0.800" stroke-linecap="round" stroke-linejoin="round"><path transform="translate(0.00 0)" d="M0.55,1.7 L2.0,0.45 V5.55"/><path transform="translate(3.45 0)" d="M2.25,0.45 L0.75,3.15 C0.55,3.55 0.45,3.9 0.45,4.2 C0.45,5.0 0.9,5.55 1.5,5.55 C2.1,5.55 2.55,5.0 2.55,4.15 C2.55,3.3 2.1,2.8 1.5,2.8 C1.1,2.8 0.85,2.95 0.65,3.3"/><path transform="translate(7.45 0)" d="M1.5,0.45 C0.6,0.45 0.45,1.6 0.45,3 C0.45,4.4 0.6,5.55 1.5,5.55 C2.4,5.55 2.55,4.4 2.55,3 C2.55,1.6 2.4,0.45 1.5,0.45 Z"/></g>
<rect x="185.5" y="548.5" width="4" height="2" rx="1" fill="#fff" stroke="#1c1c1c" stroke-width="0.9"/>
<rect x="194.2" y="547.5" width="3" height="4" rx="1.2" fill="#fafafa" stroke="#1c1c1c" stroke-width="0.95"/>
<circle cx="200.8" cy="549.5" r="1.1" fill="#d8d8d8" stroke="#3a3a3a" stroke-width="0.75"/>
<circle cx="265.5" cy="549.5" r="1.1" fill="#d8d8d8" stroke="#3a3a3a" stroke-width="0.75"/>
<rect x="283.5" y="548.5" width="4" height="2" rx="1" fill="#fff" stroke="#1c1c1c" stroke-width="0.9"/>
<rect x="292.3" y="547.5" width="3" height="4" rx="1.2" fill="#fafafa" stroke="#1c1c1c" stroke-width="0.95"/>
<circle cx="299.3" cy="549.5" r="1.1" fill="#d8d8d8" stroke="#3a3a3a" stroke-width="0.75"/>
<line x1="265.5" y1="569.5" x2="285.5" y2="569.5" stroke="#1c1c1c" stroke-width="1.0"/>
<polygon points="265.5,569.5 272.5,567.65 272.5,571.35" fill="#1c1c1c"/>
<polygon points="285.5,569.5 278.5,567.65 278.5,571.35" fill="#1c1c1c"/>
<g transform="translate(268.90 561.90) scale(1.0 1.0)" fill="none" stroke="#1c1c1c" stroke-width="0.800" stroke-linecap="round" stroke-linejoin="round"><path transform="translate(0.00 0)" d="M2.15,5.55 V0.45 L0.4,4.15 H2.75"/><path transform="translate(4.10 0)" d="M1.5,0.45 C0.6,0.45 0.45,1.6 0.45,3 C0.45,4.4 0.6,5.55 1.5,5.55 C2.4,5.55 2.55,4.4 2.55,3 C2.55,1.6 2.4,0.45 1.5,0.45 Z"/><path transform="translate(8.10 0)" d="M0.7,4.85 V5.9 L0.35,6.8"/><path transform="translate(10.20 0)" d="M2.55,0.45 H0.75 L0.5,2.75 C0.8,2.45 1.1,2.35 1.5,2.35 C2.2,2.35 2.6,2.95 2.6,3.95 C2.6,5.0 2.1,5.55 1.5,5.55 C0.95,5.55 0.55,5.25 0.4,4.75"/></g>
<line x1="53.5" y1="581.5" x2="71.5" y2="581.5" stroke="#1c1c1c" stroke-width="1.0"/>
<polygon points="53.5,581.5 60.5,579.65 60.5,583.35" fill="#1c1c1c"/>
<polygon points="71.5,581.5 64.5,579.65 64.5,583.35" fill="#1c1c1c"/>
<g transform="translate(59.00 574.20) scale(1.0 1.0)" fill="none" stroke="#1c1c1c" stroke-width="0.800" stroke-linecap="round" stroke-linejoin="round"><path transform="translate(0.00 0)" d="M0.42,1.25 C0.6,0.7 1.0,0.45 1.5,0.45 C2.1,0.45 2.5,0.9 2.5,1.6 C2.5,2.35 2.05,2.8 1.25,2.8 C2.1,2.8 2.6,3.3 2.6,4.2 C2.6,5.05 2.1,5.55 1.5,5.55 C0.95,5.55 0.55,5.25 0.4,4.75"/><path transform="translate(4.00 0)" d="M2.55,0.45 H0.75 L0.5,2.75 C0.8,2.45 1.1,2.35 1.5,2.35 C2.2,2.35 2.6,2.95 2.6,3.95 C2.6,5.0 2.1,5.55 1.5,5.55 C0.95,5.55 0.55,5.25 0.4,4.75"/></g>
<line x1="71.5" y1="581.5" x2="187.5" y2="581.5" stroke="#1c1c1c" stroke-width="1.0"/>
<polygon points="71.5,581.5 78.5,579.65 78.5,583.35" fill="#1c1c1c"/>
<polygon points="187.5,581.5 180.5,579.65 180.5,583.35" fill="#1c1c1c"/>
<g transform="translate(123.95 574.20) scale(1.0 1.0)" fill="none" stroke="#1c1c1c" stroke-width="0.800" stroke-linecap="round" stroke-linejoin="round"><path transform="translate(0.00 0)" d="M0.45,1.55 C0.45,0.85 0.9,0.45 1.5,0.45 C2.15,0.45 2.55,0.85 2.55,1.6 C2.55,2.6 0.45,4.5 0.45,5.55 H2.65"/><path transform="translate(4.00 0)" d="M0.45,1.55 C0.45,0.85 0.9,0.45 1.5,0.45 C2.15,0.45 2.55,0.85 2.55,1.6 C2.55,2.6 0.45,4.5 0.45,5.55 H2.65"/><path transform="translate(8.00 0)" d="M2.15,5.55 V0.45 L0.4,4.15 H2.75"/></g>
<line x1="187.5" y1="581.5" x2="285.5" y2="581.5" stroke="#1c1c1c" stroke-width="1.0"/>
<polygon points="187.5,581.5 194.5,579.65 194.5,583.35" fill="#1c1c1c"/>
<polygon points="285.5,581.5 278.5,579.65 278.5,583.35" fill="#1c1c1c"/>
<g transform="translate(231.28 574.20) scale(1.0 1.0)" fill="none" stroke="#1c1c1c" stroke-width="0.800" stroke-linecap="round" stroke-linejoin="round"><path transform="translate(0.00 0)" d="M0.55,1.7 L2.0,0.45 V5.55"/><path transform="translate(3.45 0)" d="M0.75,5.55 L2.25,2.85 C2.45,2.45 2.55,2.1 2.55,1.8 C2.55,1.0 2.1,0.45 1.5,0.45 C0.9,0.45 0.45,1.0 0.45,1.85 C0.45,2.7 0.9,3.2 1.5,3.2 C1.9,3.2 2.15,3.05 2.35,2.7"/><path transform="translate(7.45 0)" d="M0.45,1.55 C0.45,0.85 0.9,0.45 1.5,0.45 C2.15,0.45 2.55,0.85 2.55,1.6 C2.55,2.6 0.45,4.5 0.45,5.55 H2.65"/></g>
<line x1="53.5" y1="240.2" x2="53.5" y2="555.7" stroke="#1c1c1c" stroke-width="1.0"/>
<line x1="53.5" y1="557" x2="53.5" y2="583.6" stroke="#1c1c1c" stroke-width="1.0"/>
<line x1="71.5" y1="250.6" x2="71.5" y2="585.2" stroke="#1c1c1c" stroke-width="1.0"/>
<line x1="85.5" y1="227.4" x2="85.5" y2="248.5" stroke="#1c1c1c" stroke-width="1.0"/>
<line x1="157.5" y1="227.4" x2="157.5" y2="247.1" stroke="#1c1c1c" stroke-width="1.0"/>
<line x1="85.5" y1="276.3" x2="85.5" y2="291" stroke="#1c1c1c" stroke-width="1.0"/>
<line x1="183.5" y1="276.3" x2="183.5" y2="289.6" stroke="#1c1c1c" stroke-width="1.0"/>
<line x1="85.5" y1="318.3" x2="85.5" y2="334" stroke="#1c1c1c" stroke-width="1.0"/>
<line x1="209.5" y1="318.3" x2="209.5" y2="332.6" stroke="#1c1c1c" stroke-width="1.0"/>
<line x1="85.5" y1="363.3" x2="85.5" y2="376.5" stroke="#1c1c1c" stroke-width="1.0"/>
<line x1="224.5" y1="363.3" x2="224.5" y2="375.1" stroke="#1c1c1c" stroke-width="1.0"/>
<line x1="85.5" y1="405.3" x2="85.5" y2="419.5" stroke="#1c1c1c" stroke-width="1.0"/>
<line x1="249.5" y1="405.3" x2="249.5" y2="418.1" stroke="#1c1c1c" stroke-width="1.0"/>
<line x1="85.5" y1="448.3" x2="85.5" y2="462.5" stroke="#1c1c1c" stroke-width="1.0"/>
<line x1="275.5" y1="448.3" x2="275.5" y2="461.1" stroke="#1c1c1c" stroke-width="1.0"/>
<line x1="85.5" y1="491.3" x2="85.5" y2="505.5" stroke="#1c1c1c" stroke-width="1.0"/>
<line x1="301.5" y1="491.3" x2="301.5" y2="504.1" stroke="#1c1c1c" stroke-width="1.0"/>
<line x1="85.5" y1="534.3" x2="85.5" y2="548.5" stroke="#1c1c1c" stroke-width="1.0"/>
<line x1="327.5" y1="534.3" x2="327.5" y2="547.1" stroke="#1c1c1c" stroke-width="1.0"/>
<line x1="137.5" y1="250.6" x2="137.5" y2="267.6" stroke="#1c1c1c" stroke-width="1.0"/>
<line x1="121.5" y1="294" x2="121.5" y2="353.8" stroke="#1c1c1c" stroke-width="1.0"/>
<line x1="163.5" y1="293.1" x2="163.5" y2="312.2" stroke="#1c1c1c" stroke-width="1.0"/>
<line x1="189.5" y1="336.1" x2="189.5" y2="354.2" stroke="#1c1c1c" stroke-width="1.0"/>
<line x1="154.5" y1="378.5" x2="154.5" y2="439.5" stroke="#1c1c1c" stroke-width="1.0"/>
<line x1="204.5" y1="378.6" x2="204.5" y2="396.4" stroke="#1c1c1c" stroke-width="1.0"/>
<line x1="228.5" y1="421.5" x2="228.5" y2="439.6" stroke="#1c1c1c" stroke-width="1.0"/>
<line x1="170.5" y1="464.5" x2="170.5" y2="526.2" stroke="#1c1c1c" stroke-width="1.0"/>
<line x1="241.5" y1="464.5" x2="241.5" y2="482.8" stroke="#1c1c1c" stroke-width="1.0"/>
<line x1="252.5" y1="507.5" x2="252.5" y2="526.2" stroke="#1c1c1c" stroke-width="1.0"/>
<line x1="187.5" y1="550.5" x2="187.5" y2="584.2" stroke="#1c1c1c" stroke-width="1.0"/>
<line x1="265.5" y1="550.6" x2="265.5" y2="572.2" stroke="#1c1c1c" stroke-width="1.0"/>
<line x1="285.5" y1="550.5" x2="285.5" y2="584.4" stroke="#1c1c1c" stroke-width="1.0"/>
<defs><linearGradient id="pg" x1="0" y1="0" x2="0" y2="1"><stop offset="0" stop-color="#d8d8d8"/><stop offset="0.06" stop-color="#cbcbcb"/><stop offset="0.78" stop-color="#c0c0c0"/><stop offset="0.9" stop-color="#a8a8a8"/><stop offset="0.97" stop-color="#6a6a6a"/><stop offset="1" stop-color="#333"/></linearGradient></defs>
<ellipse cx="476.7" cy="361.1" rx="97.1" ry="96.5" fill="none" stroke="#1c1c1c" stroke-width="1.15"/>
<path d="M399.6,334.5 L554.1,334.5 A90,90 0 0 1 554.1,392 L400.3,392 A80,80 0 0 1 399.6,334.5 Z" fill="url(#pg)" stroke="#1c1c1c" stroke-width="1.1"/>
<line x1="400.3" y1="392" x2="554.1" y2="392" stroke="#1c1c1c" stroke-width="2.0"/>
<line x1="401" y1="335.5" x2="553.5" y2="335.5" stroke="#e4e4e4" stroke-width="1.0"/>
<rect x="439.2" y="357.2" width="21" height="11.3" rx="5.65" fill="#fff" stroke="#1c1c1c" stroke-width="1.1"/>
<rect x="482.5" y="352.6" width="10.4" height="20.8" rx="5.2" fill="#fff" stroke="#1c1c1c" stroke-width="1.1"/>
<circle cx="511.3" cy="363" r="5.3" fill="#fff" stroke="#1c1c1c" stroke-width="1.1"/>
<line x1="434.8" y1="363.2" x2="463.5" y2="363.2" stroke="#1c1c1c" stroke-width="1.0"/>
<line x1="473.3" y1="363.2" x2="526" y2="363.2" stroke="#1c1c1c" stroke-width="1.0"/>
<line x1="449.6" y1="349.2" x2="449.6" y2="412.6" stroke="#1c1c1c" stroke-width="1.0"/>
<line x1="487.6" y1="349.2" x2="487.6" y2="412.6" stroke="#1c1c1c" stroke-width="1.0"/>
<line x1="511.4" y1="349.2" x2="511.4" y2="412.6" stroke="#1c1c1c" stroke-width="1.0"/>
<line x1="438.4" y1="322.8" x2="438.4" y2="361.5" stroke="#1c1c1c" stroke-width="1.0"/>
<line x1="460.3" y1="322.8" x2="460.3" y2="361.5" stroke="#1c1c1c" stroke-width="1.0"/>
<line x1="420.8" y1="327.3" x2="438.4" y2="327.3" stroke="#1c1c1c" stroke-width="1.0"/>
<line x1="460.3" y1="327.3" x2="478.4" y2="327.3" stroke="#1c1c1c" stroke-width="1.0"/>
<polygon points="438.4,327.3 428.9,325.4 428.9,329.2" fill="#1c1c1c"/>
<polygon points="460.3,327.3 469.8,325.4 469.8,329.2" fill="#1c1c1c"/>
<g transform="translate(447.18 318.36) scale(1.35 1.14)" fill="none" stroke="#1c1c1c" stroke-width="0.950" stroke-linecap="round" stroke-linejoin="round"><path vector-effect="non-scaling-stroke" transform="translate(0.00 0)" d="M0.75,5.55 L2.25,2.85 C2.45,2.45 2.55,2.1 2.55,1.8 C2.55,1.0 2.1,0.45 1.5,0.45 C0.9,0.45 0.45,1.0 0.45,1.85 C0.45,2.7 0.9,3.2 1.5,3.2 C1.9,3.2 2.15,3.05 2.35,2.7"/></g>
<line x1="414.8" y1="357.3" x2="444" y2="357.3" stroke="#1c1c1c" stroke-width="1.0"/>
<line x1="414.8" y1="368.2" x2="444" y2="368.2" stroke="#1c1c1c" stroke-width="1.0"/>
<line x1="416.3" y1="340" x2="416.3" y2="386.9" stroke="#1c1c1c" stroke-width="1.0"/>
<polygon points="416.3,357.3 414.4,347.8 418.2,347.8" fill="#1c1c1c"/>
<polygon points="416.3,368.2 414.4,377.7 418.2,377.7" fill="#1c1c1c"/>
<g transform="rotate(-90 412.60 363.20) translate(406.16 356.00) scale(1.4 1.2)" fill="none" stroke="#1c1c1c" stroke-width="0.950" stroke-linecap="round" stroke-linejoin="round"><path vector-effect="non-scaling-stroke" transform="translate(0.00 0)" d="M2.15,5.55 V0.45 L0.4,4.15 H2.75"/><path vector-effect="non-scaling-stroke" transform="translate(4.10 0)" d="M0.7,4.85 V5.9 L0.35,6.8"/><path vector-effect="non-scaling-stroke" transform="translate(6.20 0)" d="M2.55,0.45 H0.75 L0.5,2.75 C0.8,2.45 1.1,2.35 1.5,2.35 C2.2,2.35 2.6,2.95 2.6,3.95 C2.6,5.0 2.1,5.55 1.5,5.55 C0.95,5.55 0.55,5.25 0.4,4.75"/></g>
<line x1="449.6" y1="408.6" x2="529.5" y2="408.6" stroke="#1c1c1c" stroke-width="1.0"/>
<polygon points="449.6,408.6 459.1,406.7 459.1,410.5" fill="#1c1c1c"/>
<polygon points="487.6,408.6 478.1,406.7 478.1,410.5" fill="#1c1c1c"/>
<polygon points="511.4,408.6 520.9,406.7 520.9,410.5" fill="#1c1c1c"/>
<g transform="translate(464.45 399.06) scale(1.35 1.14)" fill="none" stroke="#1c1c1c" stroke-width="0.950" stroke-linecap="round" stroke-linejoin="round"><path vector-effect="non-scaling-stroke" transform="translate(0.00 0)" d="M0.55,1.7 L2.0,0.45 V5.55"/><path vector-effect="non-scaling-stroke" transform="translate(3.45 0)" d="M2.25,0.45 L0.75,3.15 C0.55,3.55 0.45,3.9 0.45,4.2 C0.45,5.0 0.9,5.55 1.5,5.55 C2.1,5.55 2.55,5.0 2.55,4.15 C2.55,3.3 2.1,2.8 1.5,2.8 C1.1,2.8 0.85,2.95 0.65,3.3"/></g>
<g transform="translate(496.05 399.06) scale(1.35 1.14)" fill="none" stroke="#1c1c1c" stroke-width="0.950" stroke-linecap="round" stroke-linejoin="round"><path vector-effect="non-scaling-stroke" transform="translate(0.00 0)" d="M0.55,1.7 L2.0,0.45 V5.55"/><path vector-effect="non-scaling-stroke" transform="translate(3.45 0)" d="M1.5,0.45 C0.6,0.45 0.45,1.6 0.45,3 C0.45,4.4 0.6,5.55 1.5,5.55 C2.4,5.55 2.55,4.4 2.55,3 C2.55,1.6 2.4,0.45 1.5,0.45 Z"/></g>
<line x1="551.8" y1="315.2" x2="514.7" y2="358.9" stroke="#1c1c1c" stroke-width="1.0"/>
<polygon points="514.7,358.9 519.4,350.43 522.3,352.89" fill="#1c1c1c"/>
<line x1="495.8" y1="381.3" x2="507.8" y2="367.1" stroke="#1c1c1c" stroke-width="1.0"/>
<polygon points="507.8,367.1 503.1,375.57 500.2,373.11" fill="#1c1c1c"/>
<g transform="rotate(-49.7 540.70 321.70) translate(531.25 314.86) scale(1.35 1.14)" fill="none" stroke="#1c1c1c" stroke-width="0.950" stroke-linecap="round" stroke-linejoin="round"><path vector-effect="non-scaling-stroke" transform="translate(0.00 0)" d="M1.9,0.45 C0.8,0.45 0.4,1.6 0.4,3 C0.4,4.4 0.8,5.55 1.9,5.55 C3.0,5.55 3.4,4.4 3.4,3 C3.4,1.6 3.0,0.45 1.9,0.45 Z M0.3,6.2 L3.5,-0.2"/><path vector-effect="non-scaling-stroke" transform="translate(4.80 0)" d="M2.15,5.55 V0.45 L0.4,4.15 H2.75"/><path vector-effect="non-scaling-stroke" transform="translate(8.90 0)" d="M0.7,4.85 V5.9 L0.35,6.8"/><path vector-effect="non-scaling-stroke" transform="translate(11.00 0)" d="M2.55,0.45 H0.75 L0.5,2.75 C0.8,2.45 1.1,2.35 1.5,2.35 C2.2,2.35 2.6,2.95 2.6,3.95 C2.6,5.0 2.1,5.55 1.5,5.55 C0.95,5.55 0.55,5.25 0.4,4.75"/></g>
<ellipse cx="647.5" cy="327.2" rx="4.4" ry="1.7" fill="#d4d4d4" stroke="#1c1c1c" stroke-width="0.9"/>
<ellipse cx="647.6" cy="405.0" rx="5.0" ry="1.8" fill="#d4d4d4" stroke="#1c1c1c" stroke-width="0.9"/>
<rect x="637.5" y="328.5" width="20" height="75" rx="4" fill="#bebebe" stroke="#1c1c1c" stroke-width="1.15"/>
<g><path d="M639.5,353 V333.2 Q639.5,330.5 642.2,330.5 H652.8 Q655.5,330.5 655.5,333.2 V345" fill="none" stroke="#1c1c1c" stroke-width="1.15"/><rect x="642" y="337" width="12.5" height="1" fill="#dadada"/><path d="M654.5,336.5 H641.5 V349.5 L645.5,353" fill="none" stroke="#1c1c1c" stroke-width="1.15"/><path d="M655.5,338.5 H643.5 V350.3 L647,352.5" fill="none" stroke="#1c1c1c" stroke-width="1.1"/><path d="M653.5,341.5 H645.5 V347.5 H658.5 V352.5" fill="none" stroke="#1c1c1c" stroke-width="1.15"/><rect x="646" y="339.2" width="8.5" height="1.6" fill="#d0d0d0"/></g>
<g transform="matrix(1,0,0,-1,0,732)"><path d="M639.5,353 V333.2 Q639.5,330.5 642.2,330.5 H652.8 Q655.5,330.5 655.5,333.2 V345" fill="none" stroke="#1c1c1c" stroke-width="1.15"/><rect x="642" y="337" width="12.5" height="1" fill="#dadada"/><path d="M654.5,336.5 H641.5 V349.5 L645.5,353" fill="none" stroke="#1c1c1c" stroke-width="1.15"/><path d="M655.5,338.5 H643.5 V350.3 L647,352.5" fill="none" stroke="#1c1c1c" stroke-width="1.1"/><path d="M653.5,341.5 H645.5 V347.5 H658.5 V352.5" fill="none" stroke="#1c1c1c" stroke-width="1.15"/><rect x="646" y="339.2" width="8.5" height="1.6" fill="#d0d0d0"/></g>
<ellipse cx="648.8" cy="344.1" rx="3.4" ry="2.4" fill="#202020"/>
<ellipse cx="651.2" cy="395.0" rx="3.4" ry="1.7" fill="#202020"/>
<rect x="640" y="354.5" width="4" height="23.5" fill="#858585"/>
<line x1="644.5" y1="354" x2="644.5" y2="378.5" stroke="#1c1c1c" stroke-width="1"/>
<line x1="640" y1="354.5" x2="644.5" y2="354.5" stroke="#1c1c1c" stroke-width="1"/>
<line x1="640" y1="378" x2="644.5" y2="378" stroke="#1c1c1c" stroke-width="1"/>
<rect x="645.5" y="352.5" width="14" height="27" fill="#c4c4c4" stroke="#1c1c1c" stroke-width="1.15"/>
<line x1="637.5" y1="310" x2="637.5" y2="330" stroke="#1c1c1c" stroke-width="1.0"/>
<line x1="639.4" y1="310" x2="639.4" y2="330" stroke="#1c1c1c" stroke-width="1.0"/>
<line x1="611.9" y1="313.4" x2="637.5" y2="313.4" stroke="#1c1c1c" stroke-width="1.0"/>
<line x1="639.4" y1="313.4" x2="658.1" y2="313.4" stroke="#1c1c1c" stroke-width="1.0"/>
<polygon points="637.5,313.4 628.5,311.5 628.5,315.3" fill="#1c1c1c"/>
<polygon points="639.4,313.4 648.4,311.5 648.4,315.3" fill="#1c1c1c"/>
<g transform="translate(614.23 302.76) scale(1.35 1.14)" fill="none" stroke="#1c1c1c" stroke-width="0.950" stroke-linecap="round" stroke-linejoin="round"><path vector-effect="non-scaling-stroke" transform="translate(0.00 0)" d="M0.55,1.7 L2.0,0.45 V5.55"/><path vector-effect="non-scaling-stroke" transform="translate(3.45 0)" d="M0.7,4.85 V5.9 L0.35,6.8"/><path vector-effect="non-scaling-stroke" transform="translate(5.55 0)" d="M0.45,1.55 C0.45,0.85 0.9,0.45 1.5,0.45 C2.15,0.45 2.55,0.85 2.55,1.6 C2.55,2.6 0.45,4.5 0.45,5.55 H2.65"/></g>
<line x1="616.3" y1="345.4" x2="661.9" y2="345.4" stroke="#1c1c1c" stroke-width="1.0"/>
<polygon points="637.4,345.4 628.4,343.5 628.4,347.3" fill="#1c1c1c"/>
<g transform="translate(618.63 334.76) scale(1.35 1.14)" fill="none" stroke="#1c1c1c" stroke-width="0.950" stroke-linecap="round" stroke-linejoin="round"><path vector-effect="non-scaling-stroke" transform="translate(0.00 0)" d="M0.55,1.7 L2.0,0.45 V5.55"/><path vector-effect="non-scaling-stroke" transform="translate(3.45 0)" d="M0.7,4.85 V5.9 L0.35,6.8"/><path vector-effect="non-scaling-stroke" transform="translate(5.55 0)" d="M0.45,1.55 C0.45,0.85 0.9,0.45 1.5,0.45 C2.15,0.45 2.55,0.85 2.55,1.6 C2.55,2.6 0.45,4.5 0.45,5.55 H2.65"/></g>
<line x1="647.5" y1="326.5" x2="703.8" y2="326.5" stroke="#1c1c1c" stroke-width="1.0"/>
<line x1="651.8" y1="406.2" x2="704" y2="406.2" stroke="#1c1c1c" stroke-width="1.0"/>
<line x1="699.5" y1="326.5" x2="699.5" y2="406.2" stroke="#1c1c1c" stroke-width="1.0"/>
<polygon points="699.5,326.5 697.6,335.5 701.4,335.5" fill="#1c1c1c"/>
<polygon points="699.5,406.2 697.6,397.2 701.4,397.2" fill="#1c1c1c"/>
<g transform="rotate(-90 696.80 366.90) translate(687.56 359.58) scale(1.4 1.22)" fill="none" stroke="#1c1c1c" stroke-width="0.950" stroke-linecap="round" stroke-linejoin="round"><path vector-effect="non-scaling-stroke" transform="translate(0.00 0)" d="M2.15,5.55 V0.45 L0.4,4.15 H2.75"/><path vector-effect="non-scaling-stroke" transform="translate(4.10 0)" d="M2.55,0.45 H0.75 L0.5,2.75 C0.8,2.45 1.1,2.35 1.5,2.35 C2.2,2.35 2.6,2.95 2.6,3.95 C2.6,5.0 2.1,5.55 1.5,5.55 C0.95,5.55 0.55,5.25 0.4,4.75"/><path vector-effect="non-scaling-stroke" transform="translate(8.10 0)" d="M0.7,4.85 V5.9 L0.35,6.8"/><path vector-effect="non-scaling-stroke" transform="translate(10.20 0)" d="M0.42,1.25 C0.6,0.7 1.0,0.45 1.5,0.45 C2.1,0.45 2.5,0.9 2.5,1.6 C2.5,2.35 2.05,2.8 1.25,2.8 C2.1,2.8 2.6,3.3 2.6,4.2 C2.6,5.05 2.1,5.55 1.5,5.55 C0.95,5.55 0.55,5.25 0.4,4.75"/></g>
<line x1="647.6" y1="394.5" x2="684.8" y2="394.5" stroke="#1c1c1c" stroke-width="1.0"/>
<polygon points="659.4,394.5 668.4,392.6 668.4,396.4" fill="#1c1c1c"/>
<g transform="translate(671.43 384.46) scale(1.35 1.14)" fill="none" stroke="#1c1c1c" stroke-width="0.950" stroke-linecap="round" stroke-linejoin="round"><path vector-effect="non-scaling-stroke" transform="translate(0.00 0)" d="M0.55,1.7 L2.0,0.45 V5.55"/><path vector-effect="non-scaling-stroke" transform="translate(3.45 0)" d="M0.7,4.85 V5.9 L0.35,6.8"/><path vector-effect="non-scaling-stroke" transform="translate(5.55 0)" d="M2.55,0.45 H0.75 L0.5,2.75 C0.8,2.45 1.1,2.35 1.5,2.35 C2.2,2.35 2.6,2.95 2.6,3.95 C2.6,5.0 2.1,5.55 1.5,5.55 C0.95,5.55 0.55,5.25 0.4,4.75"/></g>
<line x1="637.35" y1="406" x2="637.35" y2="434.6" stroke="#1c1c1c" stroke-width="1.0"/>
<line x1="659.6" y1="380" x2="659.6" y2="434.6" stroke="#1c1c1c" stroke-width="1.0"/>
<line x1="619.4" y1="430.2" x2="677.9" y2="430.2" stroke="#1c1c1c" stroke-width="1.0"/>
<polygon points="637.35,430.2 628.35,428.3 628.35,432.1" fill="#1c1c1c"/>
<polygon points="659.6,430.2 668.6,428.3 668.6,432.1" fill="#1c1c1c"/>
<g transform="translate(640.23 420.36) scale(1.35 1.14)" fill="none" stroke="#1c1c1c" stroke-width="0.950" stroke-linecap="round" stroke-linejoin="round"><path vector-effect="non-scaling-stroke" transform="translate(0.00 0)" d="M0.55,1.7 L2.0,0.45 V5.55"/><path vector-effect="non-scaling-stroke" transform="translate(3.45 0)" d="M0.45,1.55 C0.45,0.85 0.9,0.45 1.5,0.45 C2.15,0.45 2.55,0.85 2.55,1.6 C2.55,2.6 0.45,4.5 0.45,5.55 H2.65"/><path vector-effect="non-scaling-stroke" transform="translate(7.45 0)" d="M0.7,4.85 V5.9 L0.35,6.8"/><path vector-effect="non-scaling-stroke" transform="translate(9.55 0)" d="M0.4,0.45 H2.6 L1.0,5.55"/></g>
</g>
</svg>
</body></html>
